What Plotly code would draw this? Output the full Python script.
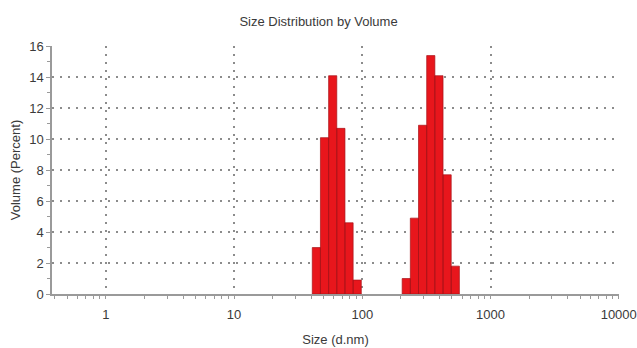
import math
import plotly.graph_objects as go

# Size classes (nm, geometric bin centres) and volume percentages
sizes_peak1 = [43.82, 50.75, 58.77, 68.06, 78.82, 91.28]
volume_peak1 = [3.0, 10.1, 14.1, 10.7, 4.6, 0.9]

sizes_peak2 = [220.2, 255.0, 295.3, 342.0, 396.1, 458.7, 531.2]
volume_peak2 = [1.0, 4.9, 10.9, 15.4, 14.1, 7.7, 1.8]

class_ratio = 1.1581  # ratio between neighbouring size classes

x_ticks = [1, 10, 100, 1000, 10000]
x_tick_text = ["1", "10", "100", "1000", "10000"]
y_ticks = [0, 2, 4, 6, 8, 10, 12, 14, 16]

sizes = sizes_peak1 + sizes_peak2
volumes = volume_peak1 + volume_peak2

# Build one closed polygon per size class so the bars span the log-spaced bin
half = math.sqrt(class_ratio)
xs, ys = [], []
for s, v in zip(sizes, volumes):
    lo, hi = s / half, s * half
    xs += [lo, lo, hi, hi, lo, None]
    ys += [0, v, v, 0, 0, None]

fig = go.Figure()
fig.add_trace(go.Scatter(
    x=xs, y=ys, mode="lines", fill="toself",
    fillcolor="#E8161C",
    line=dict(color="#A8141A", width=0.7),
    hoverinfo="skip", showlegend=False,
))

grid_color = "#8c8c8c"
axis_color = "#9a9a9a"
text_color = "#3a3a3a"

fig.update_layout(
    width=637, height=348,
    margin=dict(l=52, r=18, t=46, b=54),
    paper_bgcolor="white", plot_bgcolor="white",
    font=dict(family="Liberation Sans, Arial, sans-serif", size=13, color=text_color),
    title=dict(text="Size Distribution by Volume", x=0.5, xref="container",
               xanchor="center", y=1 - 21 / 348, yanchor="middle",
               font=dict(size=13, color=text_color)),
    showlegend=False,
)

fig.update_xaxes(
    type="log", range=[-0.42, 4.002], automargin=False,
    tickvals=x_ticks, ticktext=x_tick_text,
    ticks="outside", ticklen=3, tickcolor=axis_color, tickwidth=1,
    ticklabelstandoff=5,
    minor=dict(dtick="D1", ticks="outside", ticklen=3, tickcolor=axis_color,
               showgrid=False),
    showline=True, linecolor=axis_color, linewidth=1.5,
    showgrid=True, gridcolor=grid_color, gridwidth=1.5, griddash="2px,6px",
    zeroline=False,
    title=dict(text="Size (d.nm)", standoff=14, font=dict(size=13, color=text_color)),
)

fig.update_yaxes(
    range=[0, 16.02], automargin=False,
    tickvals=y_ticks,
    ticks="outside", ticklen=4, tickcolor=axis_color, tickwidth=1,
    minor=dict(dtick=1, ticks="outside", ticklen=3, tickcolor=axis_color, showgrid=False),
    showline=True, linecolor=axis_color, linewidth=1.5,
    showgrid=True, gridcolor=grid_color, gridwidth=1.5, griddash="2px,6px",
    zeroline=False,
    title=dict(text="Volume (Percent)", standoff=6, font=dict(size=13, color=text_color)),
)

fig.write_html("out.html")
